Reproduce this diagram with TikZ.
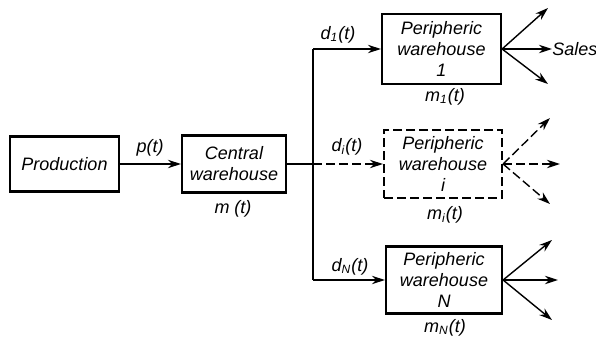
\documentclass[tikz,border=0pt]{standalone}
\usepackage{fontspec}
\setmainfont{Liberation Sans}
\usetikzlibrary{arrows.meta}
\begin{document}
\begin{tikzpicture}[x=0.5pt,y=-0.5pt,
  font=\fontsize{9}{10.5}\selectfont\itshape,
  box/.style={draw,line width=1.1pt,align=center,inner sep=0pt},
  conn/.style={line width=0.7pt},
  dsh/.style={dash pattern=on 4.5pt off 2pt},
  arr/.style={conn,-{Stealth[length=6.5pt,width=4.2pt]}},
  lbl/.style={inner sep=0pt}]
\useasboundingbox (0,0) rectangle (596,343);
% boxes
\node[box,minimum width=54.5pt,minimum height=27.5pt] (prod) at (64.5,164) {Production};
\node[box,minimum width=52pt,minimum height=28.5pt] (cent) at (234,164) {Central\\warehouse};
\node[box,minimum width=59.5pt,minimum height=35pt] (p1) at (441.5,49) {Peripheric\\warehouse\\1};
\node[box,dsh,minimum width=59pt,minimum height=34pt] (pi) at (443,164) {Peripheric\\warehouse\\i};
\node[box,minimum width=58pt,minimum height=33.5pt] (pn) at (444,280) {Peripheric\\warehouse\\N};
% junctions
\coordinate (j1) at (313,49);
\coordinate (ji) at (313,164);
\coordinate (jn) at (313,280);
% connectors
\draw[arr] (prod) -- (cent);
\draw[conn] (cent.east) -- (ji);
\draw[conn] (j1) -- (jn);
\draw[arr] (j1) -- (p1.west);
\draw[arr,dsh] (ji) -- (pi.west);
\draw[arr] (jn) -- (pn.west);
% outputs
\coordinate (o1a) at (548,8);
\coordinate (o1c) at (548,84);
\coordinate (oia) at (550,118);
\coordinate (oib) at (560,164);
\coordinate (oic) at (550,204);
\coordinate (ona) at (552,240);
\coordinate (onb) at (558,280);
\coordinate (onc) at (552,320);
\node[lbl,anchor=west] (sales) at (552,49) {Sales};
\draw[arr] (p1.east) -- (o1a);
\draw[arr] (p1.east) -- (sales.west);
\draw[arr] (p1.east) -- (o1c);
\draw[arr,dsh] (pi.east) -- (oia);
\draw[arr,dsh] (pi.east) -- (oib);
\draw[arr,dsh] (pi.east) -- (oic);
\draw[arr] (pn.east) -- (ona);
\draw[arr] (pn.east) -- (onb);
\draw[arr] (pn.east) -- (onc);
% labels
\node[lbl] (lp) at (150,148) {p(t)};
\node[lbl] (lm) at (233,209) {m (t)};
\node[lbl] (ld1) at (338,35) {d\textsubscript{1}(t)};
\node[lbl] (lm1) at (445,97) {m\textsubscript{1}(t)};
\node[lbl] (ldi) at (347,147) {d\textsubscript{i}(t)};
\node[lbl] (lmi) at (445,215) {m\textsubscript{i}(t)};
\node[lbl] (ldn) at (350,267) {d\textsubscript{N}(t)};
\node[lbl] (lmn) at (445,328) {m\textsubscript{N}(t)};
\end{tikzpicture}
\end{document}
